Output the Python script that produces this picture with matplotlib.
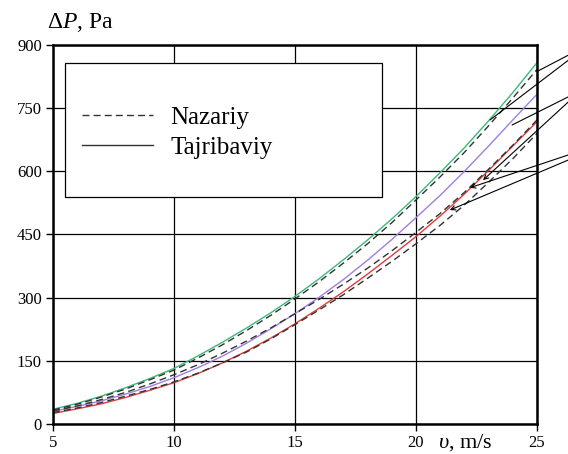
import matplotlib
matplotlib.use("Agg")
import matplotlib.pyplot as plt
from matplotlib.lines import Line2D
from matplotlib.patches import Rectangle

plt.rcParams['font.family'] = ['Liberation Serif', 'DejaVu Serif']
plt.rcParams['mathtext.fontset'] = 'custom'
plt.rcParams['mathtext.rm'] = 'Liberation Serif'
plt.rcParams['mathtext.it'] = 'Liberation Serif:italic'

# tezlik, m/s
v = list(range(5, 26))

# tajribaviy (yaxlit chiziqlar)
green_exp = [35, 49, 66, 86, 108, 132, 162, 194, 228, 264, 303,
             345, 390, 437, 487, 540, 597, 656, 720, 787, 858]
purple_exp = [30, 42, 55, 71, 89, 110, 134, 161, 192, 226, 262,
              301, 343, 389, 438, 490, 543, 600, 660, 722, 783]
red_exp = [25, 36, 48, 63, 80, 98, 120, 145, 173, 204, 238,
           275, 314, 356, 400, 445, 494, 546, 602, 660, 718]

# nazariy (shtrix chiziqlar)
dash_top = [33, 47, 64, 83, 105, 128, 157, 188, 222, 258, 297,
            338, 382, 428, 478, 532, 587, 645, 708, 774, 842]
dash_mid = [31, 43, 58, 75, 95, 117, 141, 168, 197, 228, 262,
            296, 332, 370, 411, 455, 500, 550, 605, 662, 722]
dash_low = [27, 38, 51, 66, 82, 100, 121, 145, 171, 202, 236,
            271, 307, 346, 386, 428, 472, 520, 574, 630, 690]

# izoh chiziqlari: (boshlanish, tugash, strelka)
leaders = [
    ((26.3, 876), (25.0, 837), False),
    ((26.3, 864), (23.06, 722), False),
    ((26.3, 777), (23.97, 710), False),
    ((26.3, 765), (22.77, 579), True),
    ((26.3, 639), (22.23, 561), True),
    ((26.3, 627), (21.4, 508), True),
]

fig = plt.figure(figsize=(5.68, 4.54), dpi=100)
ax = fig.add_axes([0.0933, 0.0661, 0.8521, 0.8348])

ax.plot(v, green_exp, color='#3cb878', lw=1.0)
ax.plot(v, purple_exp, color='#a07ee0', lw=1.0)
ax.plot(v, red_exp, color='#e03c3c', lw=1.0)
for d in (dash_top, dash_mid, dash_low):
    ax.plot(v, d, color='#333333', lw=1.0, dashes=(5, 3))

for start, end, arrow in leaders:
    ax.annotate('', xy=end, xytext=start, annotation_clip=False,
                arrowprops=dict(arrowstyle='->' if arrow else '-', color='black',
                                lw=0.8, mutation_scale=8, shrinkA=0, shrinkB=0))

ax.set_xlim(5, 25)
ax.set_ylim(0, 900)
ax.set_xticks([5, 10, 15, 20, 25])
ax.set_yticks([0, 150, 300, 450, 600, 750, 900])
ax.grid(True, color='black', lw=0.9)
for s in ax.spines.values():
    s.set_linewidth(1.8)
ax.tick_params(direction='out', length=5, width=1, labelsize=12, pad=3)

# legenda ramkasi
ax.add_patch(Rectangle((0.0248, 0.599), 0.655, 0.3535, transform=ax.transAxes,
                       facecolor='white', edgecolor='black', lw=0.9, zorder=3))
handles = [Line2D([], [], color='#333333', lw=1.0, dashes=(5, 3)),
           Line2D([], [], color='#333333', lw=1.0)]
leg = ax.legend(handles, ['Nazariy', 'Tajribaviy'], loc='center left',
                bbox_to_anchor=(0.013, 0.768), frameon=False, fontsize=18,
                handlelength=2.85, handletextpad=0.7, labelspacing=0.3)
leg.set_zorder(4)

ax.text(-0.012, 1.03, r'$\Delta P$, Pa', transform=ax.transAxes, fontsize=17,
        ha='left', va='bottom')
ax.text(0.795, -0.048, r'$\upsilon$, m/s', transform=ax.transAxes, fontsize=16,
        ha='left', va='center')

fig.savefig('out.png', dpi=100)
